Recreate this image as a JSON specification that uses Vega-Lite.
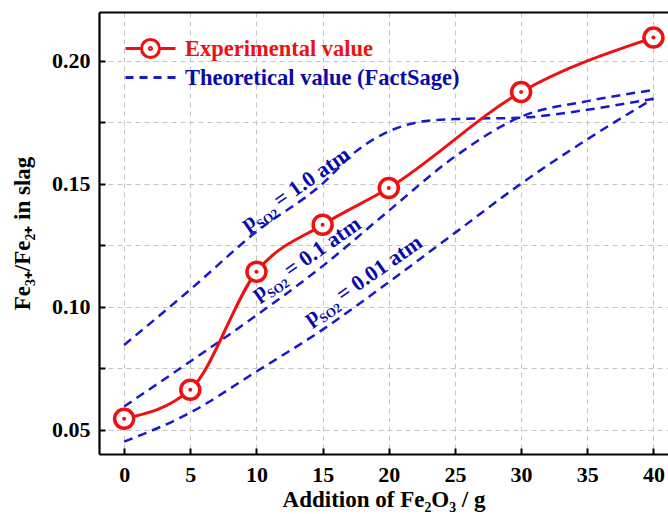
{
  "$schema": "https://vega.github.io/schema/vega-lite/v6.json",
  "width": 569,
  "height": 442,
  "autosize": {"type": "none"},
  "padding": {"left": 99, "top": 12, "right": 0, "bottom": 60},
  "background": "white",
  "config": {
    "view": {"stroke": null},
    "font": "Liberation Serif",
    "axis": {
      "labelFont": "Liberation Serif",
      "labelFontWeight": "bold",
      "labelFontSize": 22,
      "labelColor": "black",
      "titleFont": "Liberation Serif",
      "titleFontWeight": "bold",
      "titleFontSize": 23,
      "titleColor": "black",
      "domain": true,
      "domainColor": "black",
      "domainWidth": 2.2,
      "tickColor": "black",
      "tickWidth": 2,
      "tickSize": -6,
      "gridColor": "#c4c4c4",
      "gridDash": [5, 4],
      "gridWidth": 1
    }
  },
  "resolve": {"axis": {"x": "independent"}},
  "datasets": {
    "exp": [
      {"x": 0, "y": 0.0545, "series": "Experimental value"},
      {"x": 5, "y": 0.0663, "series": "Experimental value"},
      {"x": 10, "y": 0.1142, "series": "Experimental value"},
      {"x": 15, "y": 0.1333, "series": "Experimental value"},
      {"x": 20, "y": 0.1482, "series": "Experimental value"},
      {"x": 30, "y": 0.1872, "series": "Experimental value"},
      {"x": 40, "y": 0.2093, "series": "Experimental value"}
    ],
    "theo": [
      {"curve": "1.0", "x": 0, "y": 0.0845, "series": "Theoretical value (FactSage)"},
      {"curve": "1.0", "x": 5, "y": 0.107, "series": "Theoretical value (FactSage)"},
      {"curve": "1.0", "x": 10, "y": 0.1305, "series": "Theoretical value (FactSage)"},
      {"curve": "1.0", "x": 15, "y": 0.150, "series": "Theoretical value (FactSage)"},
      {"curve": "1.0", "x": 17.5, "y": 0.163, "series": "Theoretical value (FactSage)"},
      {"curve": "1.0", "x": 20, "y": 0.1712, "series": "Theoretical value (FactSage)"},
      {"curve": "1.0", "x": 22.5, "y": 0.1752, "series": "Theoretical value (FactSage)"},
      {"curve": "1.0", "x": 25, "y": 0.1762, "series": "Theoretical value (FactSage)"},
      {"curve": "1.0", "x": 30, "y": 0.1768, "series": "Theoretical value (FactSage)"},
      {"curve": "1.0", "x": 35, "y": 0.180, "series": "Theoretical value (FactSage)"},
      {"curve": "1.0", "x": 40, "y": 0.1845, "series": "Theoretical value (FactSage)"},
      {"curve": "0.1", "x": 0, "y": 0.0595, "series": "Theoretical value (FactSage)"},
      {"curve": "0.1", "x": 5, "y": 0.0778, "series": "Theoretical value (FactSage)"},
      {"curve": "0.1", "x": 10, "y": 0.0965, "series": "Theoretical value (FactSage)"},
      {"curve": "0.1", "x": 15, "y": 0.1165, "series": "Theoretical value (FactSage)"},
      {"curve": "0.1", "x": 20, "y": 0.139, "series": "Theoretical value (FactSage)"},
      {"curve": "0.1", "x": 25, "y": 0.161, "series": "Theoretical value (FactSage)"},
      {"curve": "0.1", "x": 30, "y": 0.1772, "series": "Theoretical value (FactSage)"},
      {"curve": "0.1", "x": 35, "y": 0.1835, "series": "Theoretical value (FactSage)"},
      {"curve": "0.1", "x": 40, "y": 0.188, "series": "Theoretical value (FactSage)"},
      {"curve": "0.01", "x": 0, "y": 0.0452, "series": "Theoretical value (FactSage)"},
      {"curve": "0.01", "x": 5, "y": 0.057, "series": "Theoretical value (FactSage)"},
      {"curve": "0.01", "x": 10, "y": 0.0737, "series": "Theoretical value (FactSage)"},
      {"curve": "0.01", "x": 15, "y": 0.0907, "series": "Theoretical value (FactSage)"},
      {"curve": "0.01", "x": 20, "y": 0.110, "series": "Theoretical value (FactSage)"},
      {"curve": "0.01", "x": 25, "y": 0.130, "series": "Theoretical value (FactSage)"},
      {"curve": "0.01", "x": 30, "y": 0.150, "series": "Theoretical value (FactSage)"},
      {"curve": "0.01", "x": 35, "y": 0.168, "series": "Theoretical value (FactSage)"},
      {"curve": "0.01", "x": 40, "y": 0.1845, "series": "Theoretical value (FactSage)"}
    ],
    "labels": [
      {"x": 9.3, "y": 0.1308, "val": "= 1.0 atm"},
      {"x": 10.1, "y": 0.1025, "val": "= 0.1 atm"},
      {"x": 14.05, "y": 0.0925, "val": "= 0.01 atm"}
    ]
  },
  "layer": [
    {
      "data": {"name": "theo"},
      "mark": {"type": "line", "interpolate": "monotone", "strokeWidth": 2.5, "strokeDash": [9, 6]},
      "encoding": {
        "x": {
          "field": "x", "type": "quantitative",
          "scale": {"domain": [-1.9, 41.1], "nice": false, "zero": false},
          "axis": {
            "values": [0, 5, 10, 15, 20, 25, 30, 35, 40],
            "title": "Addition of Fe₂O₃ / g",
            "labelPadding": 16,
            "titlePadding": 3
          }
        },
        "y": {
          "field": "y", "type": "quantitative",
          "scale": {"domain": [0.0402, 0.2197], "nice": false, "zero": false},
          "axis": {
            "values": [0.05, 0.075, 0.1, 0.125, 0.15, 0.175, 0.2],
            "labelExpr": "round(datum.value*1000) % 50 === 0 ? format(datum.value, '.2f') : ''",
            "title": "Fe₃₊/Fe₂₊ in slag",
            "labelPadding": 15,
            "titlePadding": 17
          }
        },
        "detail": {"field": "curve"},
        "color": {
          "field": "series", "type": "nominal",
          "scale": {"domain": ["Experimental value", "Theoretical value (FactSage)"], "range": ["#ee1111", "#1818cc"]},
          "legend": {
            "orient": "none",
            "legendX": 40,
            "legendY": 25,
            "title": null,
            "labelFont": "Liberation Serif",
            "labelFontWeight": "bold",
            "labelFontSize": 22.5,
            "labelLimit": 400,
            "labelOffset": 23,
            "rowPadding": 2,
            "symbolSize": 400,
            "symbolStrokeWidth": 3,
            "symbolFillColor": "white",
            "encode": {
              "symbols": {
                "update": {
                  "shape": {"signal": "datum.value === 'Experimental value' ? 'M -2.5 0 L -0.9 0 M 0.9 0 L 2.5 0 M -0.9 0 A 0.9 0.9 0 1 1 0.9 0 A 0.9 0.9 0 1 1 -0.9 0 M -0.1 0 A 0.1 0.1 0 1 1 0.1 0 A 0.1 0.1 0 1 1 -0.1 0' : 'M -2.5 0 L 2.5 0'"},
                  "strokeDash": {"signal": "datum.value === 'Experimental value' ? [] : [8, 6]"},
                  "fill": {"value": "white"}
                }
              },
              "labels": {
                "update": {
                  "fill": {"signal": "datum.value === 'Experimental value' ? '#ee1111' : '#0a0aa8'"}
                }
              }
            }
          }
        }
      }
    },
    {
      "data": {"name": "exp"},
      "mark": {"type": "line", "interpolate": "monotone", "strokeWidth": 3},
      "encoding": {
        "x": {
          "field": "x", "type": "quantitative",
          "axis": {"orient": "top", "labels": false, "ticks": false, "grid": false, "title": null, "domain": true}
        },
        "y": {"field": "y", "type": "quantitative"},
        "color": {"field": "series", "type": "nominal"}
      }
    },
    {
      "data": {"name": "exp"},
      "mark": {"type": "point", "shape": "circle", "size": 361, "filled": false, "fill": "white", "fillOpacity": 1, "stroke": "#ee1111", "strokeWidth": 3.5, "opacity": 1},
      "encoding": {
        "x": {"field": "x", "type": "quantitative", "axis": null},
        "y": {"field": "y", "type": "quantitative"}
      }
    },
    {
      "data": {"name": "exp"},
      "mark": {"type": "point", "shape": "circle", "size": 16, "filled": true, "color": "#ee1111", "opacity": 1},
      "encoding": {
        "x": {"field": "x", "type": "quantitative", "axis": null},
        "y": {"field": "y", "type": "quantitative"}
      }
    },
    {
      "data": {"name": "labels"},
      "mark": {"type": "text", "text": "p", "font": "Liberation Serif", "fontWeight": "bold", "fontSize": 22, "angle": -35, "align": "left", "baseline": "alphabetic", "color": "#0a0aa8"},
      "encoding": {
        "x": {"field": "x", "type": "quantitative", "axis": null},
        "y": {"field": "y", "type": "quantitative"}
      }
    },
    {
      "data": {"name": "labels"},
      "mark": {"type": "text", "text": "SO2", "font": "Liberation Serif", "fontWeight": "bold", "fontSize": 13, "angle": -35, "align": "left", "baseline": "alphabetic", "dx": 12, "dy": 6, "color": "#0a0aa8"},
      "encoding": {
        "x": {"field": "x", "type": "quantitative", "axis": null},
        "y": {"field": "y", "type": "quantitative"}
      }
    },
    {
      "data": {"name": "labels"},
      "mark": {"type": "text", "font": "Liberation Serif", "fontWeight": "bold", "fontSize": 22, "angle": -35, "align": "left", "baseline": "alphabetic", "dx": 40, "color": "#0a0aa8"},
      "encoding": {
        "x": {"field": "x", "type": "quantitative", "axis": null},
        "y": {"field": "y", "type": "quantitative"},
        "text": {"field": "val"}
      }
    }
  ]
}
